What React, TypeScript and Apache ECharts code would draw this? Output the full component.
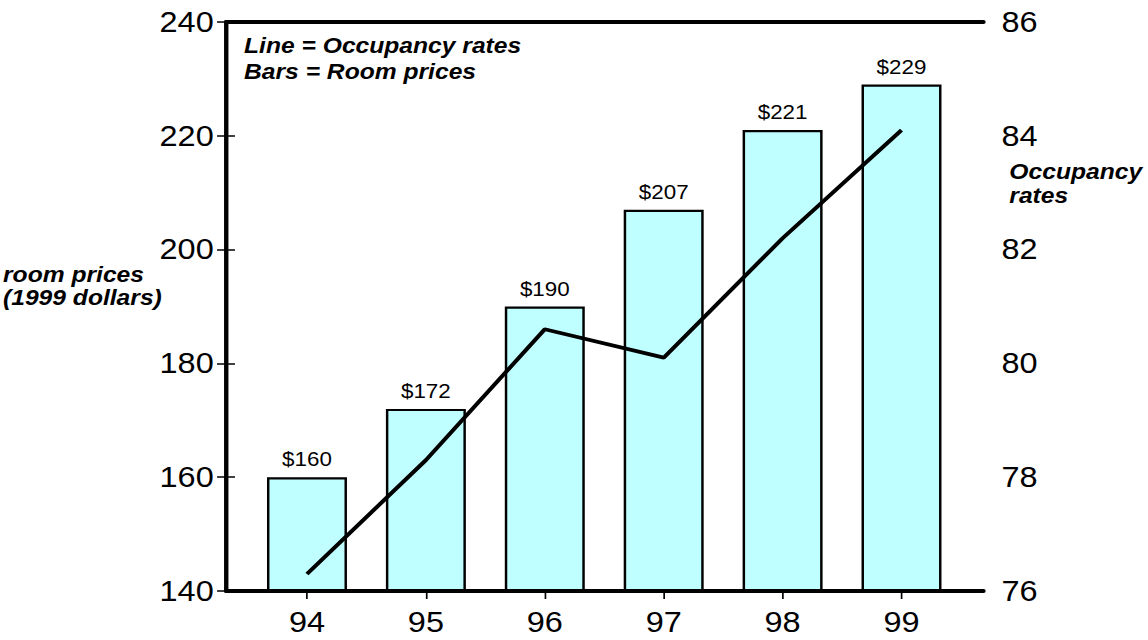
import React, { useEffect, useRef } from "react";
import * as echarts from "echarts";

// ---- data ----
const years = ["94", "95", "96", "97", "98", "99"];
const roomPrices = [160, 172, 190, 207, 221, 229];
const occupancyRates = [76.3, 78.3, 80.6, 80.1, 82.2, 84.1];
const priceAxis = { min: 140, max: 240, interval: 20 };
const rateAxis = { min: 76, max: 86, interval: 2 };
const noteLines = ["Line = Occupancy rates", "Bars = Room prices"];
const leftTitleLines = ["room prices", "(1999 dollars)"];
const rightTitleLines = ["Occupancy", "rates"];

// ---- layout (chart is drawn narrower, then stretched horizontally) ----
const STRETCH = 1.12;
const W = 1025;
const H = 640;
const FONT = '"Liberation Sans", Arial, Helvetica, sans-serif';

export default function App() {
  const ref = useRef<HTMLDivElement>(null);

  useEffect(() => {
    if (!ref.current) return;
    const chart = echarts.init(ref.current, null, { renderer: "svg" });

    const frameX = {
      type: "value",
      gridIndex: 0,
      min: 0,
      max: 1,
      z: 10,
      axisLine: { show: true, lineStyle: { color: "#000", width: 4 } },
      axisTick: { show: false },
      axisLabel: { show: false },
      splitLine: { show: false },
    };

    const option: any = {
      animation: false,
      backgroundColor: "#fff",
      textStyle: { fontFamily: FONT },
      grid: [
        { left: 201.8, right: 146.9, top: 22, bottom: 49 },
        { left: 221, right: 167, top: 22, bottom: 49 },
      ],
      xAxis: [
        { ...frameX, position: "bottom" },
        { ...frameX, position: "top" },
        {
          type: "category",
          gridIndex: 1,
          data: years,
          boundaryGap: true,
          position: "bottom",
          axisLine: { show: false },
          axisTick: {
            show: true,
            alignWithLabel: true,
            length: 8,
            lineStyle: { color: "#000", width: 1.5 },
          },
          axisLabel: {
            color: "#000",
            fontSize: 29,
            fontFamily: FONT,
            margin: 17,
          },
          splitLine: { show: false },
        },
      ],
      yAxis: [
        {
          type: "value",
          gridIndex: 0,
          position: "left",
          min: priceAxis.min,
          max: priceAxis.max,
          interval: priceAxis.interval,
          z: 10,
          axisLine: { show: true, lineStyle: { color: "#000", width: 3.6 } },
          axisTick: {
            show: true,
            length: 8,
            lineStyle: { color: "#000", width: 1.5 },
          },
          axisLabel: {
            color: "#000",
            fontSize: 29,
            fontFamily: FONT,
            margin: 11,
          },
          splitLine: { show: false },
        },
        {
          type: "value",
          gridIndex: 0,
          position: "right",
          min: rateAxis.min,
          max: rateAxis.max,
          interval: rateAxis.interval,
          z: 10,
          axisLine: { show: true, lineStyle: { color: "#000", width: 3.6 } },
          axisTick: {
            show: true,
            length: 8,
            lineStyle: { color: "#000", width: 1.5 },
          },
          axisLabel: {
            color: "#000",
            fontSize: 29,
            fontFamily: FONT,
            margin: 16,
          },
          splitLine: { show: false },
        },
        {
          type: "value",
          gridIndex: 1,
          show: false,
          min: priceAxis.min,
          max: priceAxis.max,
          interval: priceAxis.interval,
        },
        {
          type: "value",
          gridIndex: 1,
          show: false,
          min: rateAxis.min,
          max: rateAxis.max,
          interval: rateAxis.interval,
        },
      ],
      series: [
        {
          type: "bar",
          name: "Room prices",
          xAxisIndex: 2,
          yAxisIndex: 2,
          data: roomPrices,
          barWidth: 71.4,
          itemStyle: { color: "#C0FFFF", borderColor: "#000", borderWidth: 2.2 },
          label: {
            show: true,
            position: "top",
            distance: 8,
            color: "#000",
            fontSize: 20,
            fontFamily: FONT,
            formatter: (p: any) => "$" + p.value,
          },
        },
        {
          type: "line",
          name: "Occupancy rates",
          xAxisIndex: 2,
          yAxisIndex: 3,
          data: occupancyRates,
          symbol: "none",
          lineStyle: { color: "#000", width: 3.8 },
        },
      ],
      graphic: [
        {
          type: "text",
          left: 217.9,
          top: 32,
          style: {
            text: noteLines.join("\n"),
            fill: "#000",
            font: `italic bold 22px ${FONT}`,
            lineHeight: 26,
          },
        },
        {
          type: "text",
          left: 2.7,
          top: 263,
          style: {
            text: leftTitleLines.join("\n"),
            fill: "#000",
            font: `italic bold 22px ${FONT}`,
            lineHeight: 23,
          },
        },
        {
          type: "text",
          left: 901.2,
          top: 159.8,
          style: {
            text: rightTitleLines.join("\n"),
            fill: "#000",
            font: `italic bold 22px ${FONT}`,
            lineHeight: 24,
          },
        },
      ],
    };

    chart.setOption(option);
    return () => chart.dispose();
  }, []);

  return (
    <div
      style={{
        position: "fixed",
        left: 0,
        top: 0,
        width: W * STRETCH,
        height: H,
        overflow: "hidden",
        background: "#fff",
      }}
    >
      <div
        ref={ref}
        style={{
          width: W,
          height: H,
          transform: `scaleX(${STRETCH})`,
          transformOrigin: "0 0",
        }}
      />
    </div>
  );
}
